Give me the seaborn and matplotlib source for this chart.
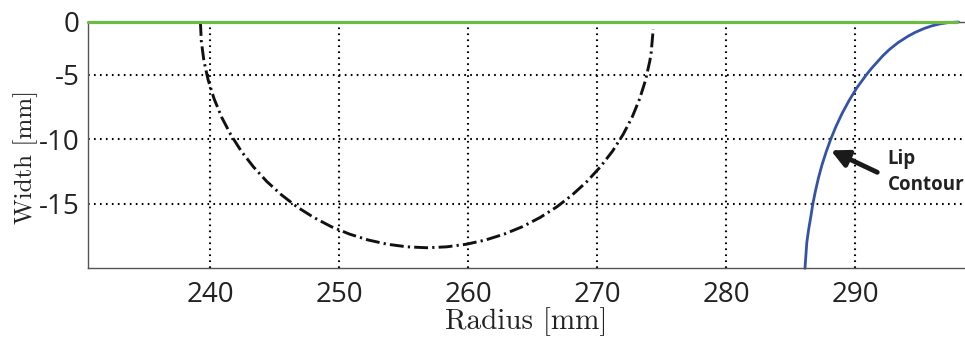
import numpy as np
import pandas as pd
import matplotlib
matplotlib.use("Agg")
import matplotlib.pyplot as plt
import seaborn as sns

# ---- data ----
circle_x = [239.25, 239.32, 239.52, 239.85, 240.31, 240.89, 241.60, 242.42, 243.36, 244.39,
            245.52, 246.73, 248.03, 249.38, 250.80, 252.26, 253.75, 255.27, 256.80,
            258.33, 259.85, 261.34, 262.80, 264.22, 265.58, 266.87, 268.08, 269.21,
            270.24, 271.18, 272.00, 272.71, 273.29, 273.75, 274.08, 274.18, 274.34]
circle_y = [-0.90, -2.38, -3.90, -5.39, -6.85, -8.27, -9.63, -10.92, -12.13, -13.26,
            -14.29, -15.23, -16.05, -16.76, -17.34, -17.80, -18.13, -18.33, -18.40,
            -18.33, -18.13, -17.80, -17.34, -16.76, -16.05, -15.23, -14.29, -13.26,
            -12.13, -10.92, -9.63, -8.27, -6.85, -5.39, -3.90, -3.29, -1.45]

lip_x = [286.10, 286.17, 286.24, 286.38, 286.55, 286.71, 286.91, 287.14, 287.41,
         287.73, 288.09, 288.50, 288.97, 289.51, 290.12, 290.85, 291.25, 291.70,
         292.15, 292.68, 293.31, 294.09, 294.65, 295.34, 295.93, 296.54, 297.15, 298.00]
lip_y = [-20.00, -19.00, -18.00, -17.00, -16.00, -15.00, -14.00, -13.00, -12.00,
         -11.00, -10.00, -9.00, -8.00, -7.00, -6.00, -5.00, -4.50, -4.00,
         -3.50, -3.00, -2.50, -2.00, -1.70, -1.40, -1.20, -1.05, -0.95, -0.90]

surface_x = [230.54, 297.90]
surface_y = [-0.90, -0.90]

x_ticks = [240, 250, 260, 270, 280, 290]
y_tick_values = [-0.90, -5, -10, -15]
y_tick_labels = ["0", "-5", "-10", "-15"]

annot_text = ["Lip", "Contour"]

sns.set_style("white")
plt.rcParams["lines.scale_dashes"] = False

fig = plt.figure(figsize=(9.65, 3.38), dpi=100)
ax = fig.add_axes([88 / 965, 70 / 338, 877 / 965, 246 / 338])

circle_df = pd.DataFrame({"x": circle_x, "y": circle_y})
lip_df = pd.DataFrame({"x": lip_x, "y": lip_y})
surf_df = pd.DataFrame({"x": surface_x, "y": surface_y})

sns.lineplot(data=circle_df, x="x", y="y", sort=False, estimator=None, ax=ax,
             color="#111111", linewidth=2.1)
ax.lines[-1].set_dashes([10.0, 3.0, 1.6, 3.0])
sns.lineplot(data=lip_df, x="x", y="y", sort=False, estimator=None, ax=ax,
             color="#3353a8", linewidth=2.0)
sns.lineplot(data=surf_df, x="x", y="y", sort=False, estimator=None, ax=ax,
             color="#6bbb45", linewidth=2.3)
ax.lines[-2].set_clip_on(False)
ax.lines[-1].set_clip_on(False)
ax.lines[-1].set_zorder(5)

ax.set_xlim(230.54, 298.5)
ax.set_ylim(-19.97, -0.90)

ax.set_xticks(x_ticks)
ax.set_xticklabels([str(t) for t in x_ticks])
ax.set_yticks(y_tick_values)
ax.set_yticklabels(y_tick_labels)

ax.grid(True, color="black", linestyle=(0, (1.2, 3.1)), linewidth=1.5)
ax.set_axisbelow(True)

for side in ["left", "bottom", "top"]:
    ax.spines[side].set_visible(True)
    ax.spines[side].set_color("#555555")
    ax.spines[side].set_linewidth(1.0)
ax.spines["right"].set_visible(False)

ax.tick_params(axis="both", direction="in", length=5, width=1, color="#333333",
               labelcolor="#222222", labelsize=20)
ax.tick_params(axis="x", pad=9)
ax.tick_params(axis="y", pad=6)
for lab in ax.get_xticklabels() + ax.get_yticklabels():
    lab.set_fontfamily("Open Sans")

ax.set_xlabel("Radius [mm]", fontfamily="cmr10", fontsize=21, color="#222222", labelpad=-1)
ax.set_ylabel("Width [mm]", fontfamily="cmr10", fontsize=18, color="#222222")
ax.yaxis.set_label_coords(-0.057, 0.45)

ax.annotate("", xy=(288.1, -10.85), xytext=(291.7, -12.55),
            arrowprops=dict(arrowstyle="-|>", lw=3.5, color="#1a1a1a",
                            mutation_scale=26, shrinkA=0, shrinkB=0))
ax.text(292.5, -11.91, annot_text[0], fontfamily="Open Sans", fontweight="bold",
        fontsize=13.5, color="#222222", va="baseline", ha="left", clip_on=False)
ax.text(292.5, -13.92, annot_text[1], fontfamily="Open Sans", fontweight="bold",
        fontsize=13.5, color="#222222", va="baseline", ha="left", clip_on=False)

fig.savefig("out.png", dpi=100)
